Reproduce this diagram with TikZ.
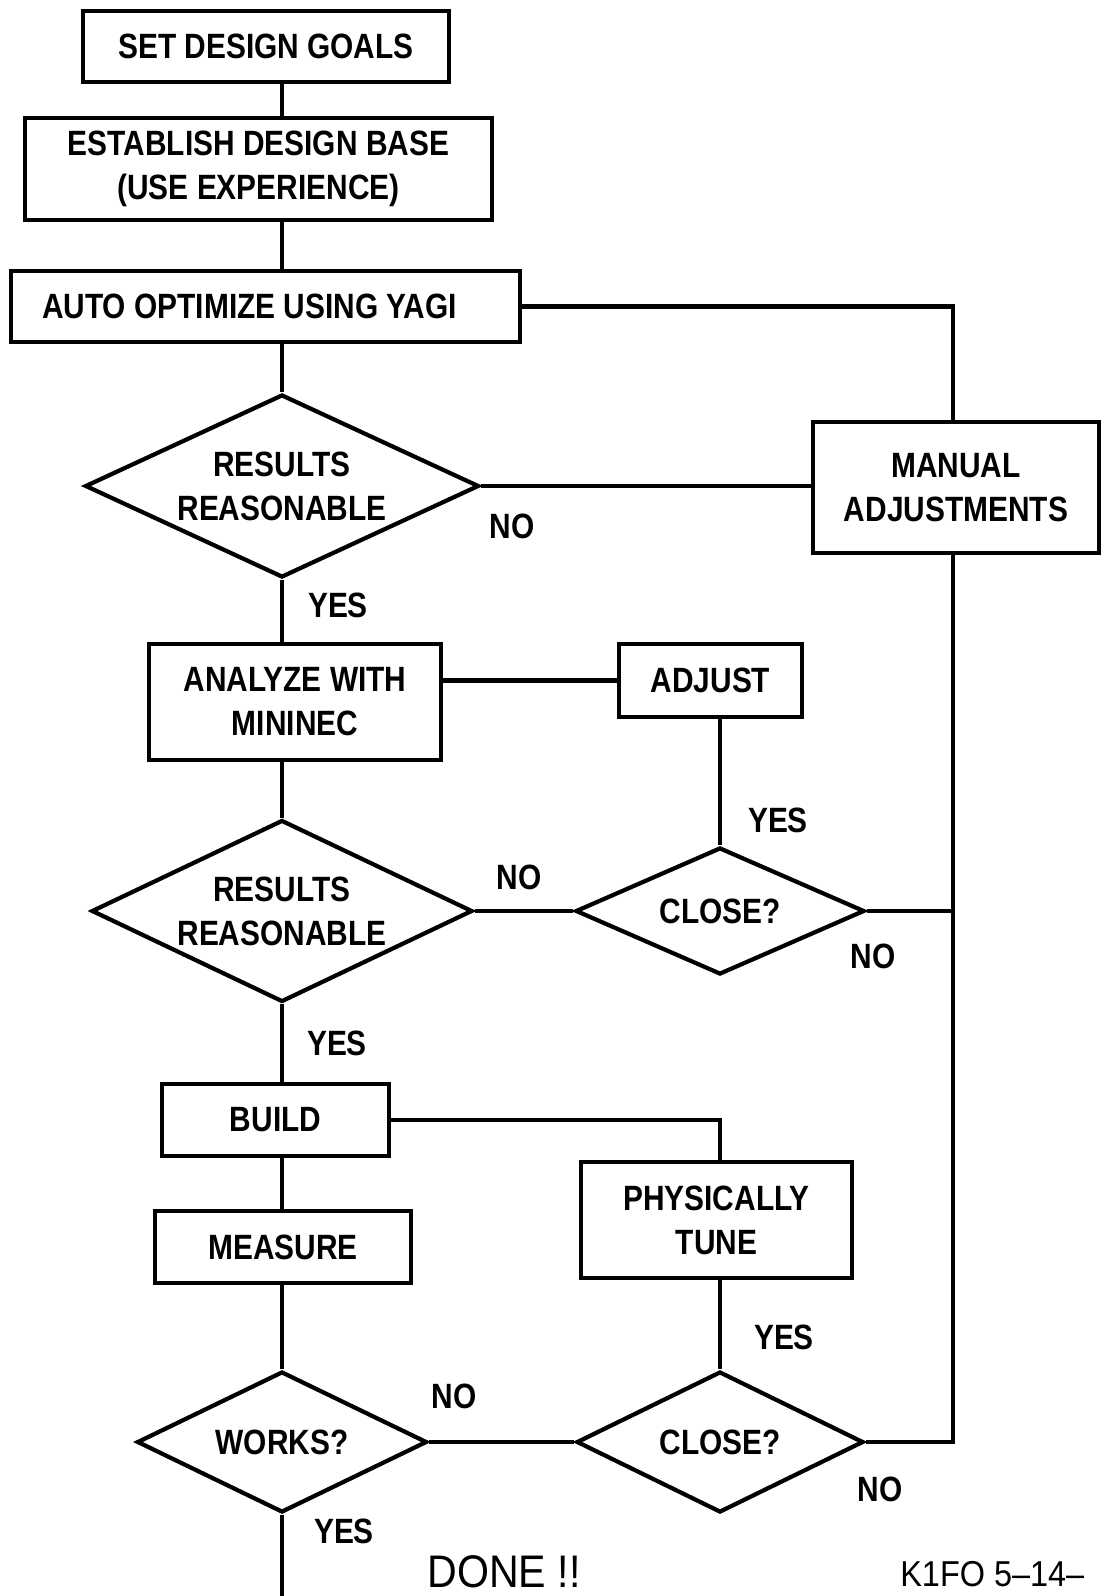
\documentclass[tikz,border=0pt]{standalone}
\usepackage{fontspec}
\usepackage{tikz}
\usetikzlibrary{shapes.geometric}
\newfontfamily\plotfam{Liberation Sans}[FakeStretch=0.85]
\newfontfamily\donefam{Liberation Sans}[FakeStretch=0.9]
\newcommand\plotfont{\plotfam\bfseries\fontsize{20}{25}\selectfont}
\newcommand\donefont{\donefam\fontsize{26}{30}\selectfont}
\newcommand\markfont{\donefam\fontsize{20.5}{24}\selectfont}
\tikzset{
  stepbox/.style={draw,line width=2.4pt,inner sep=2pt,align=center,font=\plotfont},
  decision/.style={diamond,aspect=2.2,draw,line width=2.4pt,inner sep=0pt,align=center,font=\plotfont},
  flow/.style={line width=2.4pt},
  answer/.style={inner sep=0pt,font=\plotfont}
}

\begin{document}
\begin{tikzpicture}[x=0.02cm,y=-0.02cm]
  \useasboundingbox (0,0) rectangle (1103,1596);
  \clip (0,0) rectangle (1103,1596);
  \coordinate (spine) at (282,0);
  \coordinate (rail) at (953,0);
  \node[stepbox, minimum width=7.32cm, minimum height=1.42cm] (goals) at (266,46.5) {SET DESIGN GOALS};
  \node[stepbox, minimum width=9.34cm, minimum height=2.04cm] (base) at (258.5,169) {ESTABLISH DESIGN BASE\\(USE EXPERIENCE)};
  \node[stepbox, minimum width=10.18cm, minimum height=1.42cm] (auto) at (265.5,306.5) {AUTO OPTIMIZE USING YAGI\hspace*{0.64cm}};
  \node[decision, minimum width=7.88cm, minimum height=3.66cm] (check1) at (282,486) {RESULTS\\REASONABLE};
  \node[stepbox, minimum width=5.72cm, minimum height=2.62cm] (manual) at (956,487.5) {MANUAL\\ADJUSTMENTS};
  \node[stepbox, minimum width=5.84cm, minimum height=2.32cm] (analyze) at (295,702) {ANALYZE WITH\\MININEC};
  \node[stepbox, minimum width=3.66cm, minimum height=1.46cm] (adjust) at (710.5,680.5) {ADJUST};
  \node[decision, minimum width=5.78cm, minimum height=2.54cm] (close1) at (720,911) {CLOSE?};
  \node[decision, minimum width=7.62cm, minimum height=3.64cm] (check2) at (282,911) {RESULTS\\REASONABLE};
  \node[stepbox, minimum width=4.54cm, minimum height=1.44cm] (build) at (275.5,1120) {BUILD};
  \node[stepbox, minimum width=5.42cm, minimum height=2.32cm] (tune) at (716.5,1220) {PHYSICALLY\\TUNE};
  \node[stepbox, minimum width=5.12cm, minimum height=1.44cm] (measure) at (283,1247) {MEASURE};
  \node[decision, minimum width=5.8cm, minimum height=2.82cm] (works) at (282,1442) {WORKS?};
  \node[decision, minimum width=5.74cm, minimum height=2.82cm] (close2) at (720,1442) {CLOSE?};
  \coordinate (finish) at (282,1600);

  \draw[flow] (goals.south -| spine) -- (base.north -| spine);
  \draw[flow] (base.south -| spine) -- (auto.north -| spine);
  \draw[flow] (auto.south -| spine) -- (check1.north);
  \draw[flow] (auto.east) -- (auto.east -| rail) -- (manual.north -| rail);
  \draw[flow] (check1.east) -- (manual.west |- check1.east);
  \draw[flow] (check1.south) -- (analyze.north -| check1.south);
  \draw[flow] (adjust.west -| analyze.east) -- (adjust.west);
  \draw[flow] (adjust.south -| close1.north) -- (close1.north);
  \draw[flow] (analyze.south -| spine) -- (check2.north);
  \draw[flow] (check2.east) -- (close1.west);
  \draw[flow] (close1.east) -- (close1.east -| rail);
  \draw[flow] (manual.south -| rail) -- (close2.east -| rail) -- (close2.east);
  \draw[flow] (check2.south) -- (build.north -| spine);
  \draw[flow] (build.east) -- (build.east -| close2.north) -- (tune.north -| close2.north);
  \draw[flow] (tune.south -| close2.north) -- (close2.north);
  \draw[flow] (build.south -| spine) -- (measure.north -| spine);
  \draw[flow] (measure.south -| spine) -- (works.north);
  \draw[flow] (works.east) -- (close2.west);
  \draw[flow] (works.south) -- (finish);

  \node[answer] (no1) at (512,526) {NO};
  \node[answer] (yes1) at (338,605) {YES};
  \node[answer] (yes2) at (778,820) {YES};
  \node[answer] (no2) at (519,877) {NO};
  \node[answer] (no3) at (873,956) {NO};
  \node[answer] (yes3) at (337,1043) {YES};
  \node[answer] (yes4) at (784,1337) {YES};
  \node[answer] (no4) at (454,1396) {NO};
  \node[answer] (no5) at (880,1489) {NO};
  \node[answer] (yes5) at (344,1531) {YES};
  \node[inner sep=0pt, font=\donefont] (done) at (504,1572) {DONE !!};
  \node[inner sep=0pt, anchor=west, font=\markfont] (mark) at (900,1574) {K1FO 5–14–};
\end{tikzpicture}
\end{document}
